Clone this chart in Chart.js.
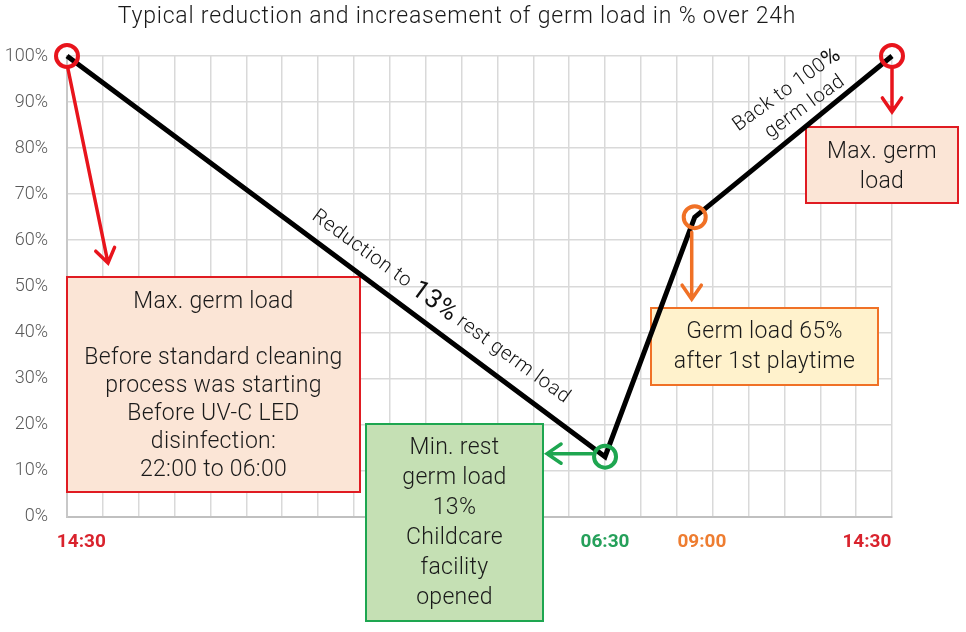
<!DOCTYPE html>
<html>
<head>
<meta charset="utf-8">
<script src="https://cdn.jsdelivr.net/npm/chart.js@4.4.1/dist/chart.umd.min.js"></script>
<style>
  html, body { margin: 0; padding: 0; background: #fff; }
  #wrap { width: 966px; height: 632px; }
</style>
</head>
<body>
<div id="wrap"><canvas id="germChart" width="966" height="632"></canvas></div>
<script>
// hours since 14:30 (one grid column per hour, 23 columns)
const hours = [0, 15, 17.5, 23];
const germLoad = [100, 13, 65, 100];
const pointColors = ['#E8141C', '#1EA650', '#F07126', '#E8141C'];

const xTickLabels = ['14:30', '06:30', '09:00', '14:30'];
const xTickAt = [0.4, 15, 17.7, 22.3];
const xTickColors = ['#D9232D', '#25A05A', '#EE7D31', '#D9232D'];

const FONT = 'Roboto, "Noto Sans", sans-serif';

const boxes = [
  { x1: 67, y1: 277, x2: 360, y2: 492, fill: '#FBE5D6', stroke: '#E01B22',
    lines: ['Max. germ load', '', 'Before standard cleaning', 'process was starting', 'Before UV-C LED', 'disinfection:', '22:00 to 06:00'],
    top: 302, lh: 28 },
  { x1: 366, y1: 424, x2: 543, y2: 621, fill: '#C5E0B4', stroke: '#1EA650',
    lines: ['Min. rest', 'germ load', '13%', 'Childcare', 'facility', 'opened'],
    top: 448, lh: 30 },
  { x1: 651, y1: 308, x2: 878, y2: 385, fill: '#FFF2CC', stroke: '#F07126',
    lines: ['Germ load 65%', 'after 1st playtime'], top: 332, lh: 30 },
  { x1: 806, y1: 127, x2: 958, y2: 203, fill: '#FBE5D6', stroke: '#E01B22',
    lines: ['Max. germ', 'load'], top: 152, lh: 30 }
];

function arrow(ctx, x1, y1, x2, y2, color) {
  const a = Math.atan2(y2 - y1, x2 - x1);
  const h = 17;
  ctx.save();
  ctx.strokeStyle = color;
  ctx.lineWidth = 3.5;
  ctx.lineCap = 'round';
  ctx.beginPath();
  ctx.moveTo(x1, y1);
  ctx.lineTo(x2, y2);
  ctx.moveTo(x2 - h * Math.cos(a - 0.6), y2 - h * Math.sin(a - 0.6));
  ctx.lineTo(x2, y2);
  ctx.lineTo(x2 - h * Math.cos(a + 0.6), y2 - h * Math.sin(a + 0.6));
  ctx.stroke();
  ctx.restore();
}

function runText(ctx, parts, cx, cy, angle) {
  ctx.save();
  ctx.translate(cx, cy);
  ctx.rotate(angle);
  ctx.letterSpacing = '0.6px';
  let total = 0;
  parts.forEach(p => { ctx.font = p.font; total += ctx.measureText(p.t).width; });
  let x = -total / 2;
  ctx.fillStyle = '#111';
  ctx.textBaseline = 'middle';
  ctx.textAlign = 'left';
  parts.forEach(p => {
    ctx.font = p.font;
    ctx.fillText(p.t, x, 0);
    x += ctx.measureText(p.t).width;
  });
  ctx.restore();
}

const annotate = {
  id: 'annotate',
  beforeDatasetsDraw(chart) {
    const ctx = chart.ctx;
    ctx.save();
    boxes.forEach(b => {
      ctx.fillStyle = b.fill;
      ctx.fillRect(b.x1, b.y1, b.x2 - b.x1, b.y2 - b.y1);
      ctx.strokeStyle = b.stroke;
      ctx.lineWidth = 2;
      ctx.strokeRect(b.x1, b.y1, b.x2 - b.x1, b.y2 - b.y1);
      ctx.fillStyle = '#1a1a1a';
      ctx.font = '300 23px ' + FONT;
      ctx.letterSpacing = '0.3px';
      ctx.textAlign = 'center';
      ctx.textBaseline = 'middle';
      b.lines.forEach((t, i) => ctx.fillText(t, (b.x1 + b.x2) / 2, b.top + i * b.lh));
    });
    ctx.restore();
  },
  afterDatasetsDraw(chart) {
    const ctx = chart.ctx;
    const xs = chart.scales.x, ys = chart.scales.y;
    const px = hours.map(h => xs.getPixelForValue(h));
    const py = germLoad.map(v => ys.getPixelForValue(v));

    // arrows hanging off the marked points
    arrow(ctx, px[0] + 1, py[0] + 13, px[0] + 41, py[0] + 207, pointColors[0]);
    arrow(ctx, px[3], py[3] + 13, px[3], py[3] + 56, pointColors[3]);
    arrow(ctx, px[2] - 3, py[2] + 15, px[2] - 3, py[2] + 82, pointColors[2]);
    arrow(ctx, px[1] - 13, py[1] - 3, px[1] - 58, py[1] - 3, pointColors[1]);

    // labels along the line
    const a1 = Math.atan2(py[1] - py[0], px[1] - px[0]) - 0.01;
    runText(ctx, [
      { t: 'Reduction to ', font: '300 20px ' + FONT },
      { t: '13%', font: '400 26px ' + FONT },
      { t: ' rest germ load', font: '300 20px ' + FONT }
    ], 441, 307, a1);
    const a2 = Math.atan2(py[3] - py[2], px[3] - px[2]) + 0.06;
    runText(ctx, [
      { t: 'Back to 100', font: '300 20px ' + FONT },
      { t: '%', font: '400 23px ' + FONT }
    ], 787, 90, a2);
    runText(ctx, [{ t: 'germ load', font: '300 20px ' + FONT }], 805, 107, a2);

    // coloured time labels
    ctx.save();
    ctx.font = 'bold 19px ' + FONT;
    ctx.textAlign = 'center';
    ctx.textBaseline = 'middle';
    xTickLabels.forEach((t, i) => {
      ctx.fillStyle = xTickColors[i];
      ctx.fillText(t, xs.getPixelForValue(xTickAt[i]), 542);
    });
    // title
    ctx.fillStyle = '#1a1a1a';
    ctx.font = '300 23px ' + FONT;
    ctx.letterSpacing = '0.8px';
    ctx.fillText('Typical reduction and increasement of germ load in % over 24h', 457, 17);
    ctx.restore();
  }
};

new Chart(document.getElementById('germChart').getContext('2d'), {
  type: 'line',
  data: {
    datasets: [{
      data: hours.map((h, i) => ({ x: h, y: germLoad[i] })),
      borderColor: '#000',
      borderWidth: 5,
      tension: 0,
      clip: false,
      pointRadius: 11,
      pointBorderWidth: 4,
      pointBackgroundColor: 'rgba(0,0,0,0)',
      pointBorderColor: pointColors
    }]
  },
  options: {
    responsive: false,
    animation: false,
    events: [],
    layout: { padding: { top: 56, right: 74, left: 0, bottom: 0 } },
    plugins: { legend: { display: false }, tooltip: { enabled: false }, title: { display: false } },
    scales: {
      x: {
        type: 'linear',
        min: 0,
        max: 23,
        ticks: { display: false, stepSize: 1 },
        grid: { color: '#D9D9D9', lineWidth: 1.5, drawTicks: false },
        border: { color: '#C0C0C0', width: 2 },
        afterFit(scale) { scale.height = 115.5; }
      },
      y: {
        min: 0,
        max: 100,
        ticks: {
          stepSize: 10,
          padding: 19,
          color: '#595959',
          font: { family: FONT, size: 18, weight: '300' },
          callback: v => v + '%'
        },
        grid: { color: '#D9D9D9', lineWidth: 1.5, drawTicks: false },
        border: { color: '#C8C8C8', width: 2 },
        afterFit(scale) { scale.width = 67; }
      }
    }
  },
  plugins: [annotate]
});
</script>
</body>
</html>
